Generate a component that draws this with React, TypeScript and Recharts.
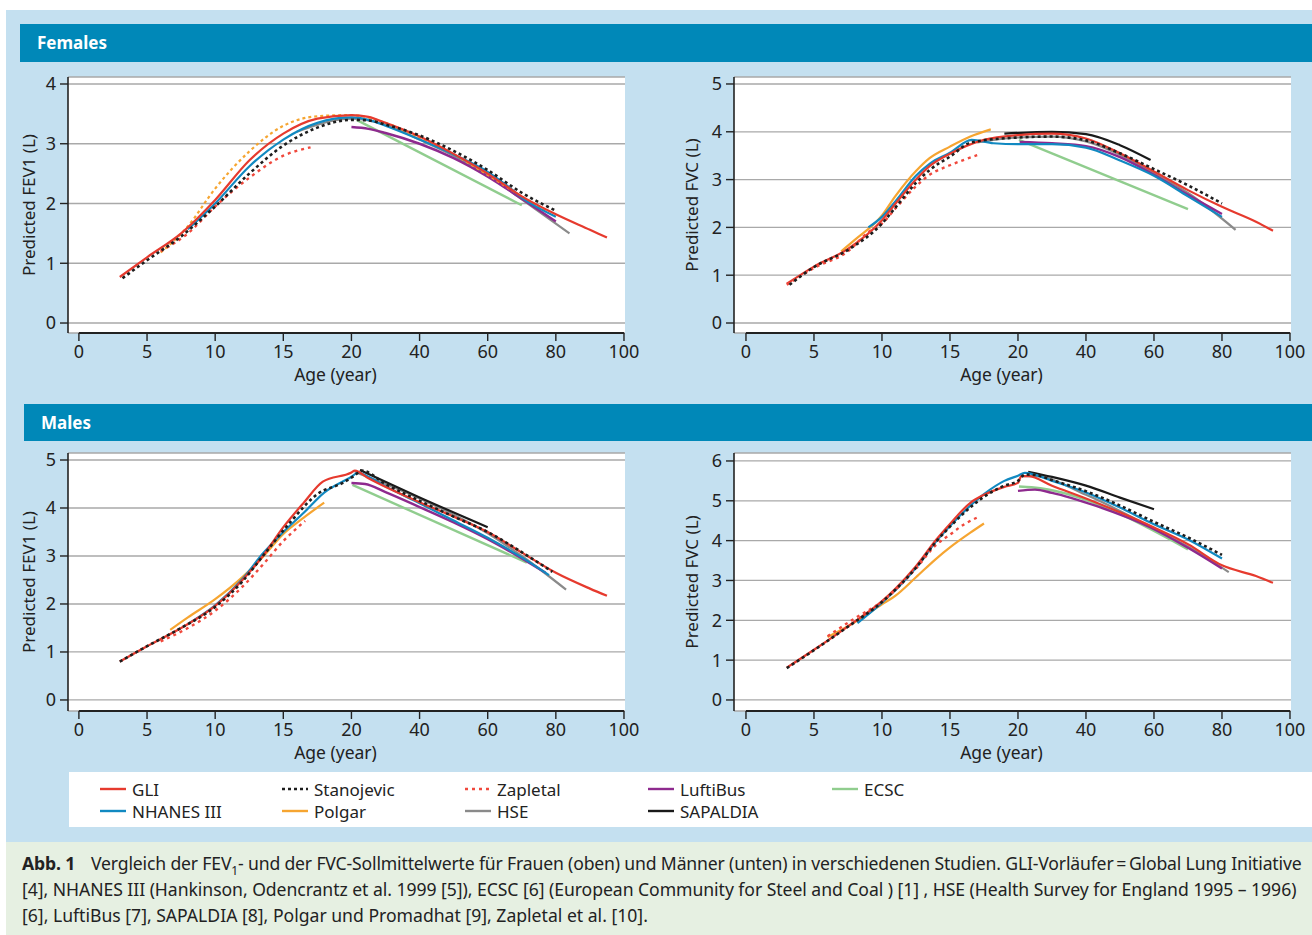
import React from 'react';
import { LineChart, Line, XAxis, YAxis, CartesianGrid, ReferenceLine } from 'recharts';

// x axis is piecewise: 0-20 years linear (5 y per step), 20-100 compressed (20 y per step)
const tickAges = [0, 5, 10, 15, 20, 40, 60, 80, 100];
const agePos = (age: number) => (age <= 20 ? age / 5 : 4 + (age - 20) / 20);

type Pt = [number, number]; // [age in years, litres]

// ---- Females, FEV1
const fFev1Gli: Pt[] = [[3, 0.77], [5, 1.1], [7.5, 1.5], [10, 2.06], [12.5, 2.72], [15, 3.17], [17.5, 3.42], [20, 3.48], [25, 3.45], [30, 3.35], [40, 3.12], [50, 2.83], [60, 2.5], [70, 2.12], [80, 1.82], [90, 1.56], [95, 1.43]];
const fFev1Nhanes: Pt[] = [[8, 1.57], [10, 2.0], [12.5, 2.62], [15, 3.07], [17.5, 3.35], [20, 3.44], [25, 3.4], [30, 3.3], [40, 3.07], [50, 2.82], [60, 2.53], [65, 2.33], [70, 2.1], [80, 1.78]];
const fFev1Stan: Pt[] = [[3.2, 0.75], [5, 1.05], [7.5, 1.45], [10, 1.95], [12.5, 2.5], [15, 2.97], [17.5, 3.27], [20, 3.4], [25, 3.39], [30, 3.32], [40, 3.14], [50, 2.88], [60, 2.56], [70, 2.18], [80, 1.88]];
const fFev1Zap: Pt[] = [[6, 1.2], [8, 1.5], [10, 1.95], [12.5, 2.43], [15, 2.8], [17, 2.94]];
const fFev1Polgar: Pt[] = [[6, 1.18], [8, 1.62], [10, 2.25], [12.5, 2.87], [15, 3.3], [17.5, 3.46], [20, 3.48], [30, 3.35], [40, 3.1], [50, 2.82], [60, 2.48], [70, 2.12], [78, 1.86]];
const fFev1Lufti: Pt[] = [[20, 3.28], [25, 3.25], [30, 3.18], [40, 3.0], [50, 2.76], [60, 2.45], [70, 2.08], [80, 1.7]];
const fFev1Ecsc: Pt[] = [[21.5, 3.4], [70, 1.97]];
const fFev1Hse: Pt[] = [[16, 3.2], [20, 3.42], [30, 3.32], [40, 3.07], [50, 2.8], [60, 2.47], [70, 2.07], [84, 1.5]];

// ---- Females, FVC
const fFvcGli: Pt[] = [[3, 0.82], [5, 1.18], [7.5, 1.55], [10, 2.15], [11, 2.5], [12.5, 3.0], [13.5, 3.28], [15, 3.54], [17.5, 3.83], [20, 3.93], [30, 3.96], [40, 3.86], [50, 3.55], [60, 3.17], [70, 2.78], [80, 2.43], [90, 2.12], [95, 1.93]];
const fFvcNhanes: Pt[] = [[9, 2.0], [10, 2.22], [11, 2.55], [12.5, 3.08], [13.5, 3.33], [15, 3.56], [16.6, 3.83], [18.2, 3.76], [20, 3.74], [30, 3.74], [40, 3.67], [50, 3.4], [60, 3.08], [70, 2.65], [80, 2.22]];
const fFvcStan: Pt[] = [[3.2, 0.8], [5, 1.17], [7.5, 1.53], [10, 2.08], [11, 2.42], [12.5, 2.93], [13.5, 3.2], [15, 3.48], [16.6, 3.78], [20, 3.88], [30, 3.9], [40, 3.82], [50, 3.55], [60, 3.22], [70, 2.88], [80, 2.5]];
const fFvcZap: Pt[] = [[3, 0.8], [5, 1.15], [7.5, 1.5], [9, 1.9], [10, 2.08], [11, 2.4], [12.5, 2.86], [13.5, 3.1], [15, 3.3], [17, 3.51]];
const fFvcPolgar: Pt[] = [[7, 1.5], [8, 1.74], [10, 2.25], [11, 2.66], [12.5, 3.18], [13.5, 3.45], [15, 3.69], [16.5, 3.9], [18, 4.05]];
const fFvcLufti: Pt[] = [[20.5, 3.79], [30, 3.76], [40, 3.7], [50, 3.47], [60, 3.1], [70, 2.68], [80, 2.28]];
const fFvcEcsc: Pt[] = [[20.3, 3.83], [70, 2.38]];
const fFvcHse: Pt[] = [[17, 3.78], [20, 3.88], [30, 3.9], [40, 3.8], [50, 3.52], [60, 3.13], [70, 2.72], [84, 1.95]];
const fFvcSapaldia: Pt[] = [[19, 3.96], [30, 4.0], [40, 3.95], [50, 3.72], [59, 3.41]];

// ---- Males, FEV1
const mFev1Gli: Pt[] = [[3, 0.8], [5, 1.12], [7.5, 1.5], [10, 1.96], [12, 2.5], [13.5, 3.0], [15, 3.6], [16.5, 4.11], [17.9, 4.55], [20, 4.74], [21, 4.78], [25, 4.62], [40, 4.12], [50, 3.82], [60, 3.5], [70, 3.07], [80, 2.65], [90, 2.32], [95, 2.17]];
const mFev1Nhanes: Pt[] = [[8.1, 1.6], [10, 1.97], [12, 2.52], [13.5, 3.05], [15, 3.5], [16.5, 3.9], [18, 4.32], [20, 4.65], [22, 4.74], [25, 4.65], [30, 4.45], [40, 4.1], [50, 3.74], [60, 3.38], [70, 2.97], [78, 2.6]];
const mFev1Stan: Pt[] = [[3, 0.8], [5, 1.12], [7.5, 1.5], [10, 1.94], [12, 2.47], [13.5, 3.0], [15.5, 3.7], [17.5, 4.29], [19.4, 4.53], [21, 4.68], [23, 4.78], [30, 4.5], [40, 4.15], [50, 3.82], [60, 3.5], [70, 3.08], [79, 2.67]];
const mFev1Zap: Pt[] = [[6, 1.22], [8, 1.5], [10, 1.86], [12, 2.36], [13.5, 2.82], [15, 3.31], [16.6, 3.73]];
const mFev1Polgar: Pt[] = [[6.7, 1.46], [8, 1.72], [10, 2.1], [12, 2.56], [13.5, 2.98], [15, 3.46], [16.5, 3.8], [18, 4.11]];
const mFev1Lufti: Pt[] = [[20, 4.52], [24, 4.5], [30, 4.33], [40, 4.02], [50, 3.7], [60, 3.35], [70, 2.95], [77, 2.65]];
const mFev1Ecsc: Pt[] = [[20.3, 4.48], [71.5, 2.86]];
const mFev1Hse: Pt[] = [[21, 4.75], [30, 4.5], [40, 4.2], [60, 3.47], [70, 3.0], [83, 2.3]];
const mFev1Sapaldia: Pt[] = [[22.5, 4.79], [40, 4.22], [60, 3.6]];

// ---- Males, FVC
const mFvcGli: Pt[] = [[3, 0.81], [5, 1.26], [7.5, 1.85], [10, 2.48], [11, 2.8], [12.5, 3.36], [14, 4.03], [15, 4.42], [16.5, 4.95], [17.5, 5.15], [19, 5.35], [20, 5.45], [21, 5.62], [23, 5.62], [30, 5.38], [40, 5.06], [50, 4.71], [60, 4.33], [70, 3.91], [80, 3.38], [90, 3.11], [95, 2.94]];
const mFvcNhanes: Pt[] = [[8.2, 1.93], [10, 2.44], [12.5, 3.32], [14, 3.99], [15, 4.37], [17.5, 5.17], [19, 5.5], [20, 5.63], [22, 5.7], [30, 5.5], [40, 5.21], [50, 4.83], [60, 4.41], [70, 4.03], [80, 3.55]];
const mFvcStan: Pt[] = [[3, 0.8], [5, 1.25], [7.5, 1.84], [10, 2.46], [12.5, 3.32], [14, 3.98], [15, 4.35], [17.5, 5.1], [19, 5.38], [20, 5.5], [22, 5.66], [25, 5.65], [30, 5.52], [40, 5.24], [50, 4.88], [60, 4.47], [70, 4.08], [80, 3.64]];
const mFvcZap: Pt[] = [[6, 1.6], [8, 2.05], [10, 2.47], [12.5, 3.3], [14, 3.9], [15, 4.15], [16, 4.4], [17, 4.58]];
const mFvcPolgar: Pt[] = [[6, 1.58], [7.5, 1.85], [10, 2.4], [11, 2.62], [12.5, 3.08], [14, 3.55], [15, 3.83], [16.5, 4.2], [17.5, 4.43]];
const mFvcLufti: Pt[] = [[20, 5.25], [25, 5.28], [30, 5.2], [43, 4.87], [59, 4.33], [70, 3.82], [80, 3.3]];
const mFvcEcsc: Pt[] = [[20.3, 5.36], [24, 5.34], [70, 3.78]];
const mFvcHse: Pt[] = [[21, 5.62], [25, 5.62], [40, 5.15], [60, 4.3], [70, 3.85], [82, 3.21]];
const mFvcSapaldia: Pt[] = [[23, 5.73], [30, 5.6], [40, 5.38], [50, 5.08], [60, 4.79]];

type Study = { key: string; name: string; color: string; dash?: string; width: number };

const studies: Study[] = [
  { key: 'gli', name: 'GLI', color: '#e63a2e', width: 2.2 },
  { key: 'nhanes', name: 'NHANES III', color: '#1189c1', width: 2.2 },
  { key: 'stan', name: 'Stanojevic', color: '#1e1e1e', dash: '3 3', width: 2.6 },
  { key: 'polgar', name: 'Polgar', color: '#f6a531', width: 2.2 },
  { key: 'zap', name: 'Zapletal', color: '#f0483c', dash: '3 4', width: 2.4 },
  { key: 'hse', name: 'HSE', color: '#8a8a8a', width: 2.2 },
  { key: 'lufti', name: 'LuftiBus', color: '#8e2a8e', width: 2.4 },
  { key: 'sapaldia', name: 'SAPALDIA', color: '#1a1a1a', width: 2.2 },
  { key: 'ecsc', name: 'ECSC', color: '#90cd8e', width: 2.4 },
];

const drawOrder = ['ecsc', 'hse', 'lufti', 'sapaldia', 'polgar', 'nhanes', 'gli', 'zap', 'stan'];
const legendCols = [['gli', 'nhanes'], ['stan', 'polgar'], ['zap', 'hse'], ['lufti', 'sapaldia'], ['ecsc']];
const legendColX = [100, 282, 465, 648, 832];

const fFev1 = { gli: fFev1Gli, nhanes: fFev1Nhanes, stan: fFev1Stan, zap: fFev1Zap, polgar: fFev1Polgar, lufti: fFev1Lufti, ecsc: fFev1Ecsc, hse: fFev1Hse };
const fFvc = { gli: fFvcGli, nhanes: fFvcNhanes, stan: fFvcStan, zap: fFvcZap, polgar: fFvcPolgar, lufti: fFvcLufti, ecsc: fFvcEcsc, hse: fFvcHse, sapaldia: fFvcSapaldia };
const mFev1 = { gli: mFev1Gli, nhanes: mFev1Nhanes, stan: mFev1Stan, zap: mFev1Zap, polgar: mFev1Polgar, lufti: mFev1Lufti, ecsc: mFev1Ecsc, hse: mFev1Hse, sapaldia: mFev1Sapaldia };
const mFvc = { gli: mFvcGli, nhanes: mFvcNhanes, stan: mFvcStan, zap: mFvcZap, polgar: mFvcPolgar, lufti: mFvcLufti, ecsc: mFvcEcsc, hse: mFvcHse, sapaldia: mFvcSapaldia };

const toRows = (arr: Pt[]) => arr.map(([age, v]) => ({ x: agePos(age), v }));

const ink = '#222';
const FONT = "'Noto Sans', 'DejaVu Sans', sans-serif";

type PanelProps = {
  left: number;
  top: number;
  height: number;
  yMax: number;
  yDomain: [number, number];
  xDomain: [number, number];
  yLabel: string;
  yLabelX: number;
  series: Record<string, Pt[]>;
  dotted?: string[];
};

function Panel({ left, top, height, yMax, yDomain, xDomain, yLabel, yLabelX, series, dotted = [] }: PanelProps) {
  const yTicks = Array.from({ length: yMax + 1 }, (_, i) => i);
  return (
    <div style={{ position: 'absolute', left, top }}>
      <LineChart width={640} height={height} margin={{ top: 7, right: 15, left: 0, bottom: 12 }}>
        <CartesianGrid vertical={false} stroke="#a9a9a9" strokeWidth={1.3} fill="#ffffff" fillOpacity={1} />
        <XAxis
          type="number"
          dataKey="x"
          domain={xDomain}
          allowDataOverflow
          ticks={tickAges.map(agePos)}
          interval={0}
          tickFormatter={(v: number) => String(tickAges[Math.round(v)])}
          axisLine={false}
          tickSize={8}
          tickMargin={4}
          tickLine={{ stroke: ink, strokeWidth: 1.4 }}
          tick={{ fontSize: 18, fill: ink }}
          height={50}
          label={{ value: 'Age (year)', position: 'insideBottom', offset: 2, dx: -11, fontSize: 17.5, fill: ink }}
        />
        <YAxis
          type="number"
          domain={yDomain}
          allowDataOverflow
          ticks={yTicks}
          interval={0}
          width={68}
          tickSize={8}
          tickMargin={4}
          axisLine={{ stroke: ink, strokeWidth: 1.6 }}
          tickLine={{ stroke: ink, strokeWidth: 1.4 }}
          tick={{ fontSize: 18, fill: ink }}
          label={{ value: yLabel, angle: -90, position: 'insideLeft', offset: yLabelX, style: { textAnchor: 'middle' }, fontSize: 17, fill: ink }}
        />
        <ReferenceLine
          segment={[{ x: 0, y: yDomain[0] }, { x: 8, y: yDomain[0] }]}
          stroke={ink}
          strokeWidth={2}
          ifOverflow="visible"
        />
        {drawOrder
          .filter((k) => series[k])
          .map((k) => {
            const s = studies.find((st) => st.key === k)!;
            const dash = dotted.includes(k) ? '3 3' : s.dash;
            return (
              <Line
                key={k}
                data={toRows(series[k])}
                dataKey="v"
                type="monotone"
                stroke={s.color}
                strokeWidth={s.width}
                strokeDasharray={dash}
                dot={false}
                activeDot={false}
                isAnimationActive={false}
              />
            );
          })}
      </LineChart>
    </div>
  );
}

function Header({ left, top, height, text }: { left: number; top: number; height: number; text: string }) {
  return (
    <div
      style={{
        position: 'absolute', left, top, width: 1312 - left, height, background: '#0088b8',
        color: '#fff', fontWeight: 700, fontSize: 17, lineHeight: `${height}px`, paddingLeft: 17, boxSizing: 'border-box',
      }}
    >
      {text}
    </div>
  );
}

function Legend() {
  return (
    <div style={{ position: 'absolute', left: 69, top: 772, width: 1243, height: 55, background: '#fff' }}>
      {legendCols.map((col, ci) =>
        col.map((k, ri) => {
          const s = studies.find((st) => st.key === k)!;
          return (
            <div
              key={k}
              style={{
                position: 'absolute', left: legendColX[ci] - 69, top: 6 + ri * 22, height: 22,
                display: 'flex', alignItems: 'center', fontSize: 17, color: ink,
              }}
            >
              <svg width={26} height={6} style={{ marginRight: 6 }}>
                <line x1={0} y1={3} x2={26} y2={3} stroke={s.color} strokeWidth={2.4} strokeDasharray={s.dash} />
              </svg>
              {s.name}
            </div>
          );
        })
      )}
    </div>
  );
}

export default function App() {
  return (
    <div style={{ position: 'absolute', left: 0, top: 0, width: 1312, height: 935, background: '#fff', overflow: 'hidden', fontFamily: FONT }}>
      <div style={{ position: 'absolute', left: 6, top: 10, width: 1306, height: 832, background: '#c4e0f0' }} />
      <div style={{ position: 'absolute', left: 6, top: 842, width: 1306, height: 93, background: '#e6f0e2' }} />
      <Header left={20} top={24} height={38} text="Females" />
      <Header left={24} top={404} height={37} text="Males" />

      <Panel left={0} top={70} height={325} yMax={4} yDomain={[-0.167, 4.117]} xDomain={[-0.16, 8.015]}
        yLabel="Predicted FEV1 (L)" yLabelX={29} series={fFev1} dotted={['polgar']} />
      <Panel left={666} top={70} height={325} yMax={5} yDomain={[-0.209, 5.146]} xDomain={[-0.176, 8.015]}
        yLabel="Predicted FVC (L)" yLabelX={26} series={fFvc} />
      <Panel left={0} top={446} height={327} yMax={5} yDomain={[-0.23, 5.146]} xDomain={[-0.16, 8.015]}
        yLabel="Predicted FEV1 (L)" yLabelX={29} series={mFev1} />
      <Panel left={666} top={446} height={327} yMax={6} yDomain={[-0.277, 6.2]} xDomain={[-0.176, 8.015]}
        yLabel="Predicted FVC (L)" yLabelX={26} series={mFvc} />

      <Legend />

      <div style={{ position: 'absolute', left: 22, top: 850, fontSize: 17.6, lineHeight: '26px', color: '#222', whiteSpace: 'nowrap' }}>
        <div style={{ letterSpacing: '-0.16px' }}>
          <b style={{ marginRight: 16 }}>Abb. 1</b>
          Vergleich der FEV<sub style={{ fontSize: 12, lineHeight: 0 }}>1</sub>- und der FVC-Sollmittelwerte für Frauen (oben) und Männer (unten) in verschiedenen Studien. GLI-Vorläufer{'\u2009=\u2009'}Global Lung Initiative
        </div>
        <div style={{ letterSpacing: '-0.05px' }}>[4], NHANES III (Hankinson, Odencrantz et al. 1999 [5]), ECSC [6] (European Community for Steel and Coal ) [1] , HSE (Health Survey for England 1995 – 1996)</div>
        <div>[6], LuftiBus [7], SAPALDIA [8], Polgar und Promadhat [9], Zapletal et al. [10].</div>
      </div>
    </div>
  );
}
